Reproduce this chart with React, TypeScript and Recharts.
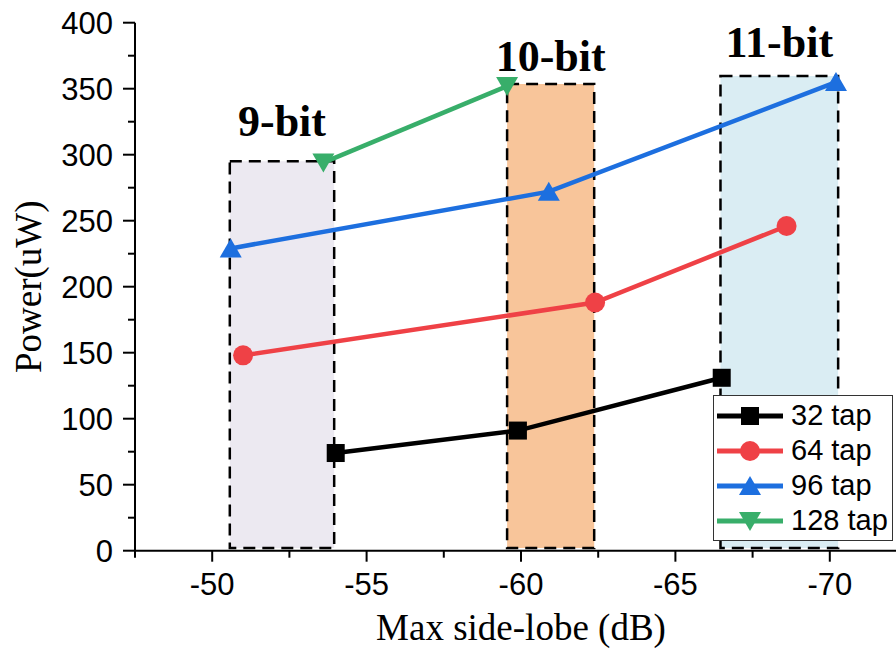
import React from 'react';
import { LineChart, Line, XAxis, YAxis, ReferenceArea, Legend } from 'recharts';

// x = max side-lobe (dB), y = power (uW)
const tap32X = [-54.0, -59.9, -66.5];
const tap32Y = [74, 91, 131];
const tap64X = [-51.0, -62.4, -68.6];
const tap64Y = [148, 188, 246];
const tap96X = [-50.6, -60.9, -70.2];
const tap96Y = [229, 272, 355];
const tap128X = [-53.6, -59.55];
const tap128Y = [294, 352];

const bitLabels = ['9-bit', '10-bit', '11-bit'];
const bitFrom = [-50.57, -59.55, -66.46];
const bitTo = [-53.95, -62.37, -70.27];
const bitTop = [295, 353.5, 359.6];
const bitBottom = 2;

const xTicks = [-72.5, -70, -67.5, -65, -62.5, -60, -57.5, -55, -52.5, -50, -47.5];
const yTicks = [0, 25, 50, 75, 100, 125, 150, 175, 200, 225, 250, 275, 300, 325, 350, 375, 400];

const boxFills = ['#ECE9F1', '#F8C59A', '#DAEDF3'];
const labelGaps = [25, 13, 19];

const SANS = '"Liberation Sans", Arial, sans-serif';
const SERIF = '"Liberation Serif", "Times New Roman", serif';

type Shape = 'square' | 'circle' | 'up' | 'down';

const toPoints = (xs: number[], ys: number[]) => xs.map((x, i) => ({ x, y: ys[i] }));

const series = [
  { name: '32 tap', color: '#000000', shape: 'square' as Shape, data: toPoints(tap32X, tap32Y) },
  { name: '64 tap', color: '#EF4146', shape: 'circle' as Shape, data: toPoints(tap64X, tap64Y) },
  { name: '96 tap', color: '#1D6FDF', shape: 'up' as Shape, data: toPoints(tap96X, tap96Y) },
  { name: '128 tap', color: '#38AE6A', shape: 'down' as Shape, data: toPoints(tap128X, tap128Y) },
];

function Marker({ shape, cx, cy, color }: { shape: Shape; cx: number; cy: number; color: string }) {
  if (shape === 'square') return <rect x={cx - 9} y={cy - 9} width={18} height={18} fill={color} />;
  if (shape === 'circle') return <circle cx={cx} cy={cy} r={10} fill={color} />;
  if (shape === 'up')
    return <polygon points={`${cx},${cy - 10} ${cx - 11},${cy + 9} ${cx + 11},${cy + 9}`} fill={color} />;
  return <polygon points={`${cx},${cy + 10} ${cx - 11},${cy - 9} ${cx + 11},${cy - 9}`} fill={color} />;
}

const XTick = (props: any) => {
  const { x, y, payload } = props;
  const major = payload.value % 5 === 0;
  return (
    <g>
      <line x1={x} x2={x} y1={y} y2={y + (major ? 11 : 7)} stroke="#000" strokeWidth={2} />
      {major && (
        <text x={x} y={y + 44} textAnchor="middle" fontSize={31} fontFamily={SANS} fill="#000">
          {payload.value}
        </text>
      )}
    </g>
  );
};

const YTick = (props: any) => {
  const { x, y, payload } = props;
  const major = payload.value % 50 === 0;
  return (
    <g>
      <line x1={x - (major ? 12 : 7)} x2={x} y1={y} y2={y} stroke="#000" strokeWidth={2} />
      {major && (
        <text x={x - 22} y={y + 11} textAnchor="end" fontSize={31} fontFamily={SANS} fill="#000">
          {payload.value}
        </text>
      )}
    </g>
  );
};

const boxLabel = (text: string, gap: number) => (p: any) => {
  const { x, y, width } = p.viewBox;
  return (
    <text x={x + width / 2} y={y - gap} textAnchor="middle" fontSize={44} fontWeight="bold" fontFamily={SERIF} fill="#000">
      {text}
    </text>
  );
};

const renderLegend = () => (
  <div style={{ border: '1px solid #333', background: '#fff', width: 178, padding: '2px 0', boxSizing: 'content-box' }}>
    {series.map((s) => (
      <div key={s.name} style={{ display: 'flex', alignItems: 'center', height: 35 }}>
        <svg width={74} height={30} style={{ flex: 'none' }}>
          <line x1={3} x2={69} y1={15} y2={15} stroke={s.color} strokeWidth={5} />
          <Marker shape={s.shape} cx={36} cy={15} color={s.color} />
        </svg>
        <span style={{ fontFamily: SANS, fontSize: 29, color: '#000', marginLeft: 3, lineHeight: '35px' }}>{s.name}</span>
      </div>
    ))}
  </div>
);

export default function App() {
  return (
    <div style={{ position: 'absolute', left: 0, top: 0, width: 896, height: 650, overflow: 'hidden', background: '#fff' }}>
      <LineChart width={907} height={650} margin={{ top: 22.7, right: 0, bottom: 0, left: 0 }}>
        <XAxis
          type="number"
          dataKey="x"
          domain={[-72.5, -47.5]}
          reversed
          ticks={xTicks}
          interval={0}
          tickSize={0}
          tickMargin={0}
          tick={<XTick />}
          height={99.3}
          axisLine={{ stroke: '#000', strokeWidth: 2 }}
          label={{
            content: (p: any) => (
              <text
                x={p.viewBox.x + p.viewBox.width / 2}
                y={p.viewBox.y + 89}
                textAnchor="middle"
                fontSize={37}
                fontFamily={SERIF}
                fill="#000"
              >
                Max side-lobe (dB)
              </text>
            ),
          }}
        />
        <YAxis
          type="number"
          dataKey="y"
          domain={[0, 400]}
          ticks={yTicks}
          interval={0}
          tickSize={0}
          tickMargin={0}
          tick={<YTick />}
          width={135}
          axisLine={{ stroke: '#000', strokeWidth: 2 }}
          label={{
            content: (p: any) => (
              <text
                transform={`translate(41, ${p.viewBox.y + p.viewBox.height / 2}) rotate(-90)`}
                textAnchor="middle"
                fontSize={37}
                fontFamily={SERIF}
                fill="#000"
              >
                Power(uW)
              </text>
            ),
          }}
        />
        {bitLabels.map((b, i) => (
          <ReferenceArea
            key={b}
            x1={bitFrom[i]}
            x2={bitTo[i]}
            y1={bitBottom}
            y2={bitTop[i]}
            fill={boxFills[i]}
            fillOpacity={1}
            stroke="#000"
            strokeWidth={2.5}
            strokeDasharray="12 7"
            label={{ content: boxLabel(b, labelGaps[i]) }}
          />
        ))}
        {series.map((s) => (
          <Line
            key={s.name}
            data={s.data}
            dataKey="y"
            name={s.name}
            type="linear"
            stroke={s.color}
            strokeWidth={4.5}
            isAnimationActive={false}
            dot={(p: any) => <Marker key={`${s.name}-${p.index}`} shape={s.shape} cx={p.cx} cy={p.cy} color={s.color} />}
            activeDot={false}
          />
        ))}
        <Legend
          layout="horizontal"
          verticalAlign="middle"
          align="center"
          content={renderLegend}
          wrapperStyle={{ left: 713, top: 395, width: 180, height: 'auto' }}
        />
      </LineChart>
    </div>
  );
}
